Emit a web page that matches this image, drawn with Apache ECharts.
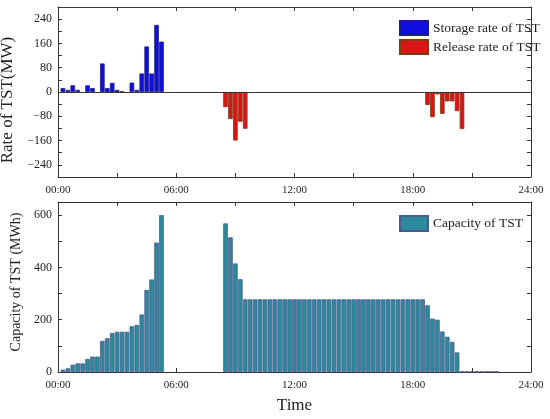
<!DOCTYPE html>
<html><head><meta charset="utf-8">
<script src="https://cdn.jsdelivr.net/npm/echarts@6/dist/echarts.min.js"></script>
<style>html,body{margin:0;padding:0;background:#fff}#c{width:550px;height:419px}</style>
</head><body><div id="c"></div>
<script>
// time resolution: one slot = 15 minutes
const slotHours = 0.25;
const hourTicks = [0, 6, 12, 18, 24];
const rateTickLabels = [-240, -160, -80, 0, 80, 160, 240];
const capTickLabels = [0, 200, 400, 600];

// storage rate (MW) by 15-min slot
const storageSlots = [1, 2, 3, 4, 6, 7, 9, 10, 11, 12, 15, 16, 17, 18, 19, 20, 21];
const storageRate  = [13, 7, 22, 7, 22, 13, 94, 13, 30, 7, 31, 7, 61, 150, 61, 221, 166];

// release rate (MW) by 15-min slot
const releaseSlots = [10, 11, 12, 13, 34, 35, 36, 37, 38, 75, 76, 77, 78, 79, 80, 81, 82];
const releaseRate  = [3, 3, 3, 3, -50, -89, -160, -98, -121, -43, -83, -8, -72, -31, -31, -63, -122];

// capacity (MWh)
const capacityStartA = 1;
const capacityA = [9, 14, 28, 33, 33, 50, 59, 59, 119, 129, 149, 154, 154, 154, 175, 180, 220, 314, 354, 495, 600];
const capacityStartB = 34;
const capacityB = [568, 515, 415, 355,
  278, 278, 278, 278, 278, 278, 278, 278, 278, 278, 278, 278, 278, 278, 278, 278, 278, 278, 278,
  278, 278, 278, 278, 278, 278, 278, 278, 278, 278, 278, 278, 278, 278, 278, 278, 278, 278,
  255, 204, 200, 155, 135, 115, 75];
const capacityStartC = 82;
const capacityC = [2, 2, 2, 2, 2, 2, 2, 2];

function pairs(slots, vals) { return slots.map((s, i) => [s * slotHours, vals[i]]); }
function run(start, vals) { return vals.map((v, i) => [(start + i) * slotHours, v]); }

const capacityData = run(capacityStartA, capacityA).concat(run(capacityStartB, capacityB), run(capacityStartC, capacityC));

const FONT = "'Liberation Serif','Times New Roman',serif";
const AX = '#333';
const pad = h => (h < 10 ? '0' : '') + h + ':00';

function xMain(grid) {
  return {
    type: 'value', gridIndex: grid, min: 0, max: 24, interval: 3,
    axisLine: { show: true, onZero: false, lineStyle: { color: AX, width: 1 } },
    axisTick: { show: true, inside: true, length: 4, lineStyle: { color: AX } },
    axisLabel: { show: true, margin: 8, color: '#222', fontFamily: FONT, fontSize: 11,
      formatter: v => hourTicks.indexOf(v) >= 0 ? pad(v) : '' },
    splitLine: { show: false }
  };
}
function xMirror(grid) {
  return {
    type: 'value', gridIndex: grid, position: 'top', min: 0, max: 24, interval: 3,
    axisLine: { show: true, onZero: false, lineStyle: { color: AX, width: 1 } },
    axisTick: { show: true, inside: true, length: 4, lineStyle: { color: AX } },
    axisLabel: { show: false }, splitLine: { show: false }
  };
}
function yMirror(grid, min, max, interval) {
  return {
    type: 'value', gridIndex: grid, position: 'right', min, max, interval,
    axisLine: { show: true, onZero: false, lineStyle: { color: AX, width: 1 } },
    axisTick: { show: true, inside: true, length: 4, lineStyle: { color: AX } },
    axisLabel: { show: false }, splitLine: { show: false }
  };
}

const option = {
  animation: false,
  backgroundColor: '#fff',
  grid: [
    { left: 58, right: 19, top: 7, height: 170, outerBoundsMode: 'none', containLabel: false },
    { left: 58, right: 19, top: 202, height: 170, outerBoundsMode: 'none', containLabel: false }
  ],
  legend: [
    { orient: 'vertical', left: 394, top: 15, itemWidth: 28, itemHeight: 14, itemGap: 3, icon: 'rect',
      data: ['Storage rate of TST', 'Release rate of TST'],
      textStyle: { fontFamily: FONT, fontSize: 13.5, color: '#222' } },
    { orient: 'vertical', left: 394, top: 210, itemWidth: 28, itemHeight: 15, icon: 'rect',
      data: ['Capacity of TST'],
      textStyle: { fontFamily: FONT, fontSize: 13.5, color: '#222' } }
  ],
  xAxis: [
    xMain(0), xMirror(0),
    Object.assign(xMain(1), { name: 'Time', nameLocation: 'middle', nameGap: 25,
      nameTextStyle: { fontFamily: FONT, fontSize: 17, color: '#222' } }),
    xMirror(1)
  ],
  yAxis: [
    { type: 'value', gridIndex: 0, min: -280, max: 280, interval: 40,
      name: 'Rate of TST(MW)', nameLocation: 'middle', nameGap: 37,
      nameTextStyle: { fontFamily: FONT, fontSize: 17, color: '#222', padding: [0, 16, 0, 0] },
      axisLine: { show: true, onZero: false, lineStyle: { color: AX, width: 1 } },
      axisTick: { show: true, inside: true, length: 4, lineStyle: { color: AX } },
      axisLabel: { margin: 6, color: '#222', fontFamily: FONT, fontSize: 12,
        formatter: v => rateTickLabels.indexOf(v) >= 0 ? String(v).replace('-', '\u2212') : '' },
      splitLine: { show: false } },
    yMirror(0, -280, 280, 40),
    { type: 'value', gridIndex: 1, min: 0, max: 650, interval: 100,
      name: 'Capacity of TST (MWh)', nameLocation: 'middle', nameGap: 24,
      nameTextStyle: { fontFamily: FONT, fontSize: 14, color: '#222', padding: [0, 0, 0, 10] },
      axisLine: { show: true, onZero: false, lineStyle: { color: AX, width: 1 } },
      axisTick: { show: true, inside: true, length: 4, lineStyle: { color: AX } },
      axisLabel: { margin: 6, color: '#222', fontFamily: FONT, fontSize: 12,
        formatter: v => capTickLabels.indexOf(v) >= 0 ? String(v) : '' },
      splitLine: { show: false } },
    yMirror(1, 0, 650, 100)
  ],
  series: [
    { name: 'Release rate of TST', type: 'bar', xAxisIndex: 0, yAxisIndex: 0,
      data: pairs(releaseSlots, releaseRate), barWidth: 4.6, barGap: '-100%', z: 2,
      itemStyle: { color: '#dd1414', borderColor: '#7a3a14', borderWidth: 0.8 } },
    { name: 'Storage rate of TST', type: 'bar', xAxisIndex: 0, yAxisIndex: 0,
      data: pairs(storageSlots, storageRate), barWidth: 4.6, barGap: '-100%', z: 3,
      itemStyle: { color: '#0f0fe0', borderColor: '#1c1c86', borderWidth: 0.8 },
      markLine: { silent: true, symbol: 'none', label: { show: false },
        lineStyle: { color: AX, width: 1, type: 'solid' }, data: [{ yAxis: 0 }] } },
    { name: 'Capacity of TST', type: 'bar', xAxisIndex: 2, yAxisIndex: 2,
      data: capacityData, barWidth: 4.6,
      itemStyle: { color: '#2b8a9c', borderColor: '#4b5a8c', borderWidth: 0.8 } }
  ]
};

const chart = echarts.init(document.getElementById('c'), null, { renderer: 'canvas' });
chart.setOption(option);
</script>
</body></html>
